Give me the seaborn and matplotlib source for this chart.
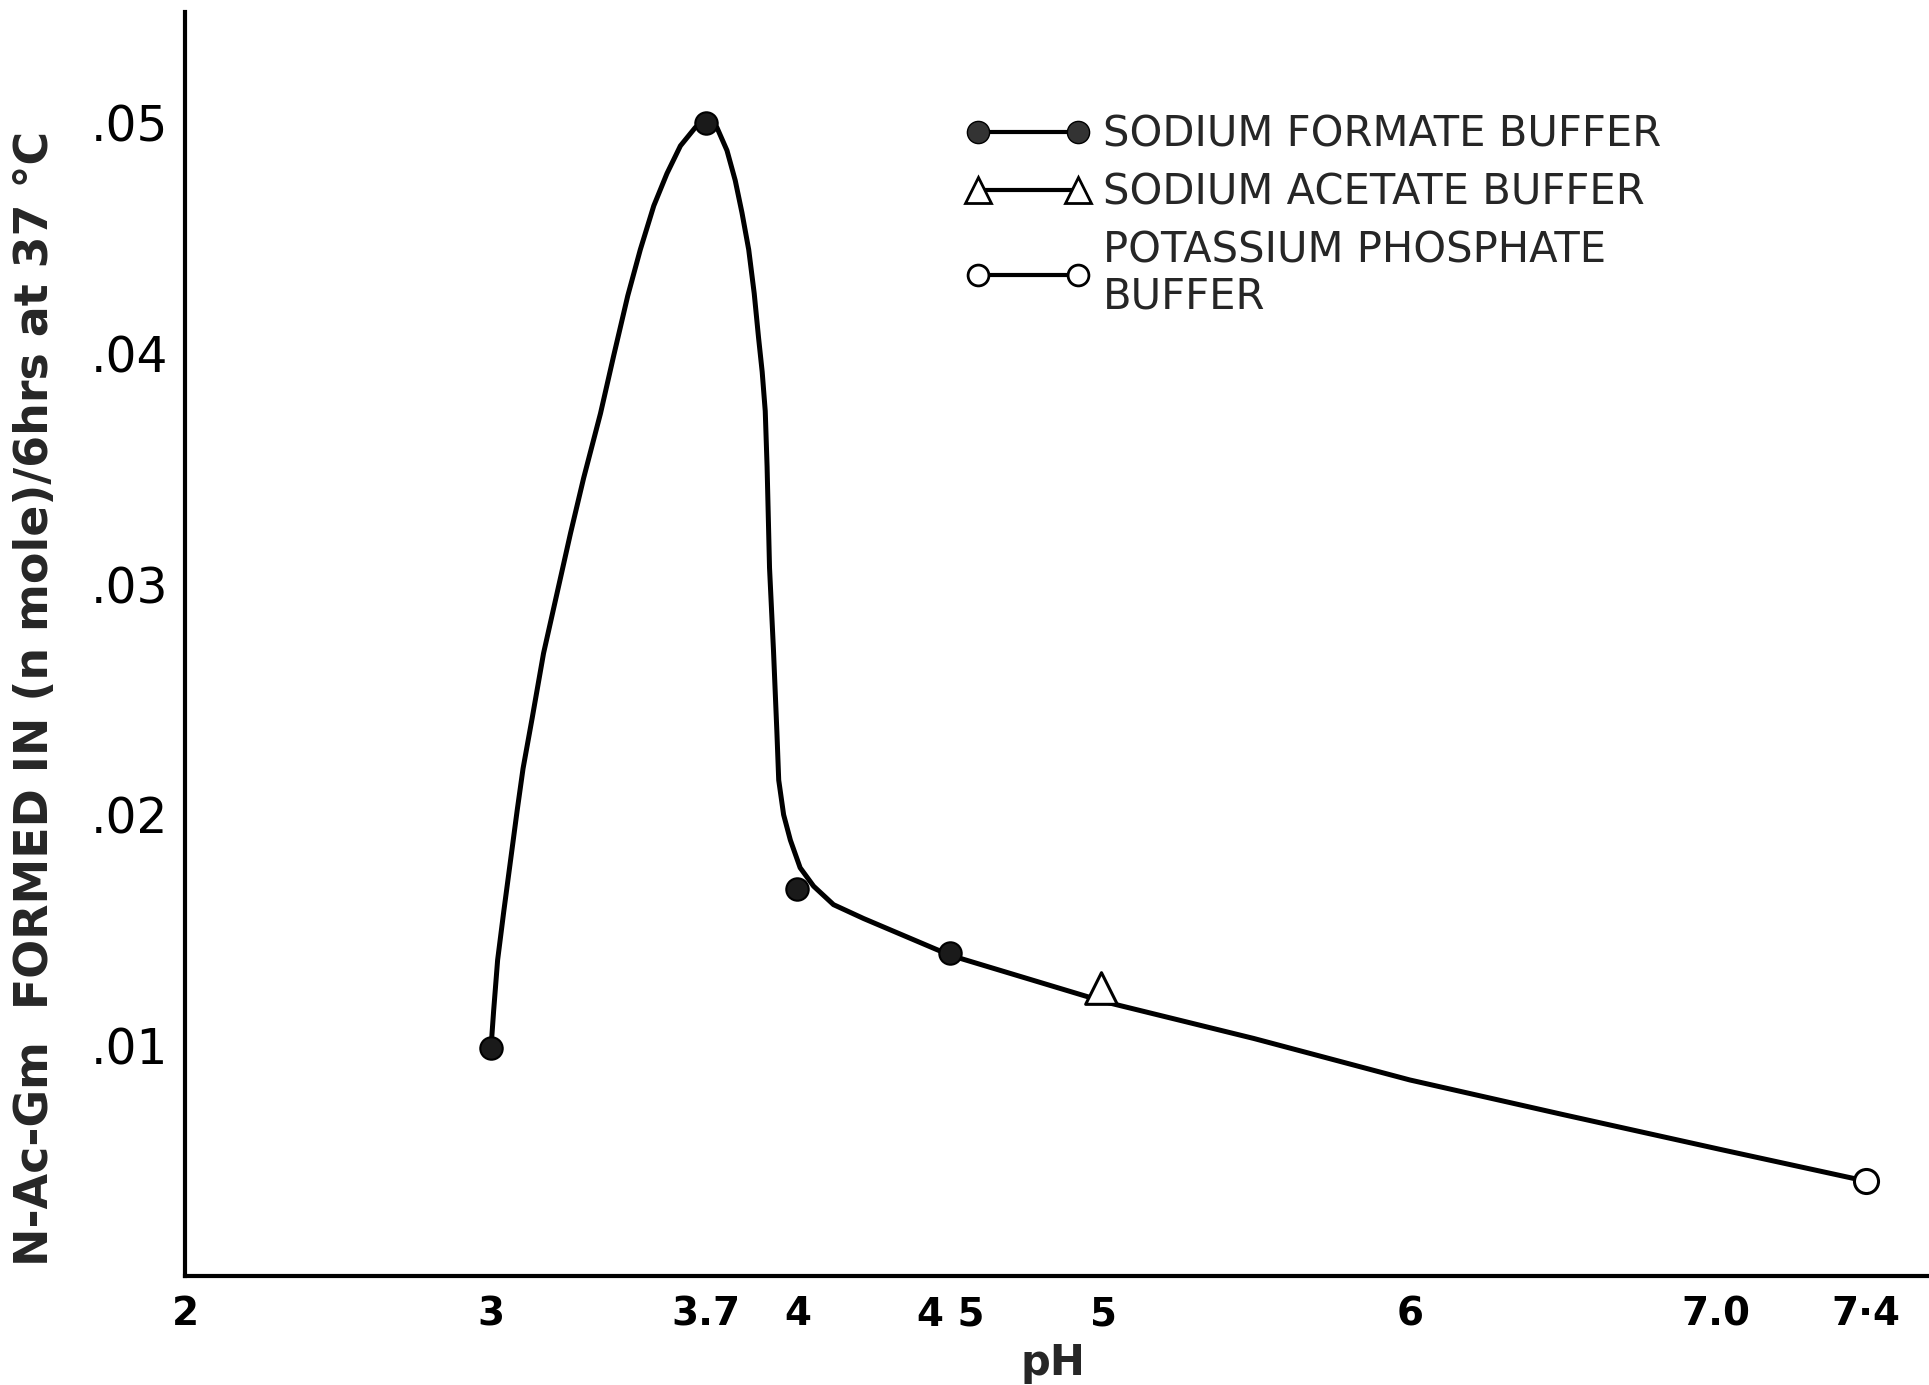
import numpy as np
import pandas as pd
import matplotlib
matplotlib.use("Agg")
import matplotlib.pyplot as plt
from matplotlib.lines import Line2D
import seaborn as sns

# ---------------- data ----------------
# hand-drawn smooth curve through the measurements
curve_ph = [3.000, 3.008, 3.021, 3.041, 3.063, 3.085, 3.104, 3.134, 3.171, 3.215,
            3.259, 3.302, 3.357, 3.400, 3.446, 3.487, 3.531, 3.574, 3.618, 3.667,
            3.699, 3.737, 3.770, 3.797, 3.819, 3.841, 3.859, 3.873, 3.885, 3.895,
            3.901, 3.909, 3.922, 3.933, 3.939, 3.955, 3.977, 4.009, 4.053, 4.118,
            4.216, 4.500, 4.750, 5.000, 5.490, 6.000, 6.500, 7.010, 7.460]
curve_val = [0.0100, 0.0115, 0.0137, 0.0158, 0.0180, 0.0202, 0.0220, 0.0242, 0.0270, 0.0296,
             0.0322, 0.0346, 0.0374, 0.0399, 0.0425, 0.0445, 0.0464, 0.0478, 0.0490, 0.0498,
             0.0500, 0.0498, 0.0488, 0.0475, 0.0461, 0.0445, 0.0426, 0.0407, 0.0392, 0.0375,
             0.0351, 0.0307, 0.0271, 0.0236, 0.0215, 0.0200, 0.0189, 0.0177, 0.0169, 0.0161,
             0.0155, 0.0139, 0.0129, 0.0119, 0.0103, 0.0085, 0.0070, 0.0055, 0.0042]

formate_ph = [3.0, 3.7, 4.0, 4.5]
formate_val = [0.0099, 0.0500, 0.0168, 0.0140]

acetate_ph = [4.99]
acetate_val = [0.0125]

phosphate_ph = [7.49]          # drawn position of the "7·4" tick
phosphate_val = [0.0041]

x_ticks = [2, 3, 3.7, 4, 4.5, 5, 6, 7.0, 7.49]
x_ticklabels = ["2", "3", "3.7", "4", "4 5", "5", "6", "7.0", "7·4"]
y_ticks = [0.01, 0.02, 0.03, 0.04, 0.05]
y_ticklabels = [".01", ".02", ".03", ".04", ".05"]

legend_labels = ["SODIUM FORMATE BUFFER", "SODIUM ACETATE BUFFER",
                 "POTASSIUM PHOSPHATE\nBUFFER"]

# ---------------- figure ----------------
sns.set_style("white")
plt.rcParams["font.family"] = ["DejaVu Sans"]

fig = plt.figure(figsize=(19.29, 13.85), dpi=100)
ax = fig.add_axes([0.0959, 0.0787, 0.904, 0.9126])

curve_df = pd.DataFrame({"pH": curve_ph, "val": curve_val})
sns.lineplot(data=curve_df, x="pH", y="val", sort=False, estimator=None,
             color="black", linewidth=3.6, ax=ax)
ax.lines[-1].set_solid_joinstyle("round")

sns.scatterplot(x=formate_ph, y=formate_val, marker="o", s=260,
                color="#1a1a1a", edgecolor="black", linewidth=1.5, ax=ax, zorder=5)
sns.scatterplot(x=acetate_ph, y=acetate_val, marker="^", s=520,
                facecolor="white", edgecolor="black", linewidth=2.2, ax=ax, zorder=5)
sns.scatterplot(x=phosphate_ph, y=phosphate_val, marker="o", s=300,
                facecolor="white", edgecolor="black", linewidth=2.2, ax=ax, zorder=5)

ax.set_xlim(2, 7.695)
ax.set_ylim(0, 0.0548)

sns.despine(ax=ax, top=True, right=True)
for side in ("left", "bottom"):
    ax.spines[side].set_linewidth(3.0)
    ax.spines[side].set_color("black")

ax.set_xticks(x_ticks)
ax.set_xticklabels(x_ticklabels, fontsize=28, fontweight="bold")
ax.set_yticks(y_ticks)
ax.set_yticklabels(y_ticklabels, fontsize=35)
ax.tick_params(axis="x", direction="in", length=22, width=2.0, pad=14, colors="black")
ax.tick_params(axis="y", direction="in", length=18, width=2.0, pad=12, colors="black")

ax.set_xlabel("pH", fontsize=30, fontweight="bold")
ax.set_ylabel("N-Ac-Gm  FORMED IN (n mole)/6hrs at 37 °C", fontsize=33,
              fontweight="bold")
ax.yaxis.set_label_coords(-0.073, 0.457)
ax.xaxis.set_label_coords(0.498, -0.052)

handles = [
    Line2D([0], [0], color="black", lw=3, marker="o", markersize=16,
           markerfacecolor="#333333", markeredgecolor="black"),
    Line2D([0], [0], color="black", lw=3, marker="^", markersize=19,
           markerfacecolor="white", markeredgecolor="black", markeredgewidth=2),
    Line2D([0], [0], color="black", lw=3, marker="o", markersize=15,
           markerfacecolor="white", markeredgecolor="black", markeredgewidth=2),
]
leg = fig.legend(handles, legend_labels, loc="upper left",
                 bbox_to_anchor=(0.481, 0.945), frameon=False, numpoints=2,
                 handlelength=3.0, handletextpad=0.3, labelspacing=0.38,
                 prop={"size": 30})
for t in leg.get_texts():
    t.set_linespacing(1.12)

fig.savefig("out.png", dpi=100)
